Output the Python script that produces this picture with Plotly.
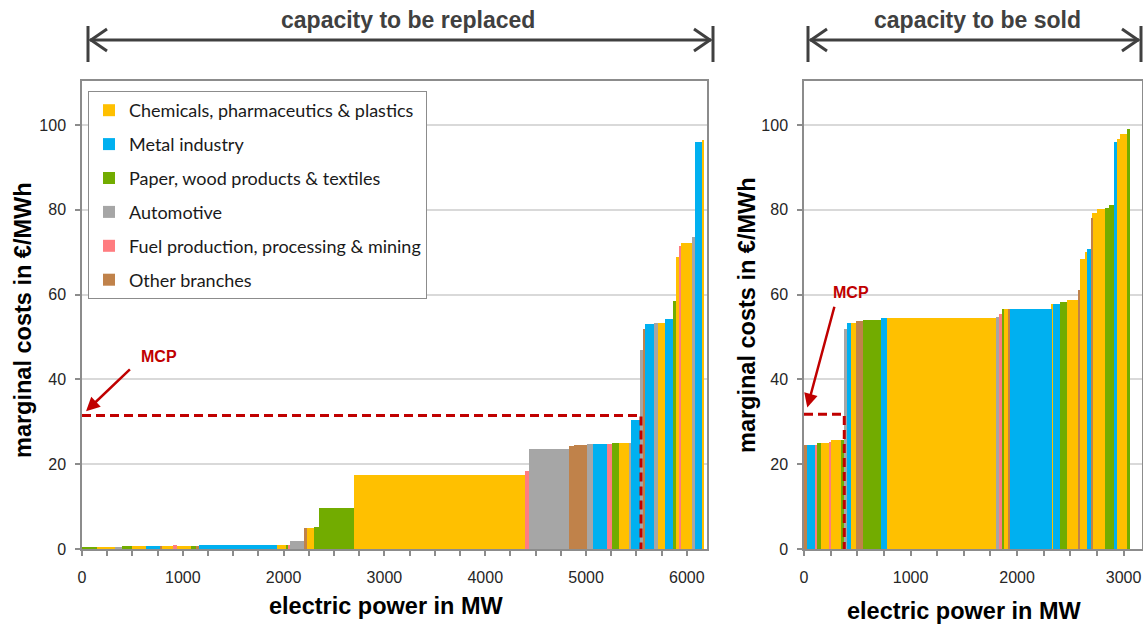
import numpy as np
import plotly.graph_objects as go

W, H = 1143, 625

# ---------------- data ----------------
sector_names = [
    "Chemicals, pharmaceutics & plastics",
    "Metal industry",
    "Paper, wood products & textiles",
    "Automotive",
    "Fuel production, processing & mining",
    "Other branches",
]
sector_codes = ["C", "M", "P", "A", "F", "O"]
sector_colors = ["#FFC000", "#00B0F0", "#72AC00", "#A6A6A6", "#FF7C80", "#C0824A"]

# capacity to be replaced (merit order, MW / EUR per MWh / sector)
left_width = [146, 181, 67, 99, 142, 139, 21, 105, 45, 133, 52, 34, 773, 88, 15, 23,
              139, 27, 73, 52, 344, 1697, 37, 402, 47, 126, 59, 139, 50, 69, 109, 10,
              100, 19, 26, 89, 34, 72, 77, 33, 30, 19, 112, 30, 64, 26]
left_cost = [0.5, 0.35, 0.35, 0.7, 0.6, 0.6, 0.7, 0.7, 1.0, 0.8, 0.8, 0.8, 0.9, 0.9, 0.9, 1.0,
             1.8, 4.9, 5.0, 5.3, 9.7, 17.4, 18.5, 23.5, 24.4, 24.6, 24.7, 24.7, 24.8, 24.9, 25.0, 25.1,
             30.5, 47.0, 52.0, 53.0, 53.2, 53.3, 54.3, 58.5, 69.0, 71.5, 72.2, 73.6, 96.0, 96.6]
left_sector = ["P", "C", "A", "P", "C", "M", "O", "C", "F", "C", "P", "O", "M", "C", "P", "F",
               "A", "O", "C", "P", "P", "C", "F", "A", "O", "O", "A", "M", "F", "P", "C", "A",
               "M", "A", "O", "M", "A", "C", "M", "P", "C", "F", "C", "A", "M", "C"]

# capacity to be sold
right_width = [31, 72, 21, 32, 80, 22, 87, 35, 25, 40, 42, 66, 172, 52, 1021, 30, 26, 21,
               47, 15, 389, 9, 72, 65, 103, 18, 53, 13, 40, 9, 44, 77, 35, 46, 31, 23, 68, 25]
right_cost = [24.5, 24.5, 24.5, 24.9, 24.9, 25.2, 25.7, 25.8, 52.0, 53.2, 53.2, 53.8, 54.1, 54.5,
              54.5, 54.8, 55.5, 56.6, 56.6, 56.6, 56.6, 57.9, 57.9, 58.3, 58.7, 61.1, 68.3, 70.0,
              70.7, 78.0, 79.3, 80.2, 80.4, 81.1, 95.9, 96.7, 97.9, 99.1]
right_sector = ["O", "M", "F", "P", "C", "F", "C", "P", "A", "M", "C", "O", "P", "M", "C", "A",
                "F", "P", "C", "O", "M", "C", "M", "P", "C", "O", "C", "C", "M", "O", "C", "C",
                "P", "P", "M", "C", "C", "P"]

# market clearing price (MW, EUR/MWh)
mcp_left_power, mcp_left_price = 5545, 31.5
mcp_right_power, mcp_right_price = 378, 31.8

x_ticks_left = [0, 1000, 2000, 3000, 4000, 5000, 6000]
x_ticks_right = [0, 1000, 2000, 3000]
y_ticks = [0, 20, 40, 60, 80, 100]

# ---------------- helpers ----------------
def px(x):
    return x / W


def py(y):
    return 1 - y / H


AX_COLOR = "#8C8C8C"
GRID_COLOR = "#D9D9D9"
RED = "#C00000"
DARK = "#404040"
TICK_FONT = dict(family="Liberation Sans, Arial", size=16, color="#262626")

fig = go.Figure()


def add_merit(widths, costs, sectors, xa, ya, show):
    w = np.array(widths, dtype=float)
    start = np.cumsum(w) - w
    mid = start + w / 2
    c = np.array(costs, dtype=float)
    s = np.array(sectors)
    for name, code, col in zip(sector_names, sector_codes, sector_colors):
        m = s == code
        fig.add_trace(go.Bar(
            x=mid[m], y=c[m], width=w[m], name=name,
            marker=dict(color=col, line=dict(width=0)),
            xaxis=xa, yaxis=ya, showlegend=show, legendgroup=name,
            hoverinfo="skip",
        ))


add_merit(left_width, left_cost, left_sector, "x", "y", True)
add_merit(right_width, right_cost, right_sector, "x2", "y2", False)

# MCP dashed lines
for p, c, xa, ya in [(mcp_left_power, mcp_left_price, "x", "y"),
                     (mcp_right_power, mcp_right_price, "x2", "y2")]:
    fig.add_trace(go.Scatter(
        x=[0, p, p], y=[c, c, 0], mode="lines",
        line=dict(color=RED, width=3, dash="9px,5px"),
        xaxis=xa, yaxis=ya, showlegend=False, hoverinfo="skip",
    ))

L0, L1 = 82, 707
R0, R1 = 804, 1141.7
YB, YT = 549, 81
y_dom = [py(YB), py(YT)]

xcommon = dict(
    showline=True, linecolor=AX_COLOR, linewidth=1.5, mirror=True,
    ticks="outside", ticklen=5, tickcolor=AX_COLOR, tickwidth=1.5,
    showgrid=False, zeroline=False, tickfont=TICK_FONT, ticklabelstandoff=8,
    automargin=False, ticklabeloverflow="allow",
    minor=dict(dtick=250, ticks="outside", ticklen=5, tickcolor=AX_COLOR, tickwidth=1.5, showgrid=False),
)
ycommon = dict(
    showline=True, linecolor=AX_COLOR, linewidth=1.5, mirror=True,
    ticks="outside", ticklen=5, tickcolor=AX_COLOR, tickwidth=1.5,
    showgrid=True, gridcolor=GRID_COLOR, gridwidth=1.5, zeroline=False,
    tickfont=TICK_FONT, range=[0, 110.4], tickvals=y_ticks, domain=y_dom, ticklabelstandoff=6,
    automargin=False,
)

fig.update_layout(
    width=W, height=H,
    margin=dict(l=0, r=0, t=0, b=0, autoexpand=False),
    paper_bgcolor="white", plot_bgcolor="white",
    barmode="overlay", bargap=0,
    xaxis=dict(domain=[px(L0), px(L1)], range=[0, 6200], tickvals=x_ticks_left,
               anchor="y", **xcommon),
    yaxis=dict(anchor="x", **ycommon),
    xaxis2=dict(domain=[px(R0), px(R1)], range=[0, 3170], tickvals=x_ticks_right,
                anchor="y2", **xcommon),
    yaxis2=dict(anchor="x2", **ycommon),
    legend=dict(
        x=px(88), y=py(91), xanchor="left", yanchor="top",
        bgcolor="white", bordercolor="#8C8C8C", borderwidth=1,
        font=dict(family="Lato, Open Sans", size=18, color="#1A1A1A"),
        tracegroupgap=7.5, itemwidth=30, traceorder="grouped",
    ),
    showlegend=True,
)

annotations = []
shapes = []

# top titles with double arrows
for (a, b, cx, label) in [(88, 713, 408, "capacity to be replaced"),
                          (808, 1141, 977, "capacity to be sold")]:
    annotations.append(dict(
        x=px(cx), y=py(20), xref="paper", yref="paper", text=label, showarrow=False,
        font=dict(family="Liberation Sans, Arial", size=23, color=DARK, weight="bold"),
        xanchor="center", yanchor="middle",
    ))
    ln = dict(color=DARK, width=3)
    shapes.append(dict(type="line", xref="paper", yref="paper",
                       x0=px(a + 2), x1=px(b - 2), y0=py(40), y1=py(40), line=ln))
    shapes.append(dict(type="line", xref="paper", yref="paper",
                       x0=px(a), x1=px(a), y0=py(26), y1=py(62), line=ln))
    shapes.append(dict(type="line", xref="paper", yref="paper",
                       x0=px(b), x1=px(b), y0=py(26), y1=py(62), line=ln))
    shapes.append(dict(type="path", xref="paper", yref="paper",
                       path=f"M {px(a + 19)} {py(29)} L {px(a + 3)} {py(40)} L {px(a + 19)} {py(51)}",
                       line=ln))
    shapes.append(dict(type="path", xref="paper", yref="paper",
                       path=f"M {px(b - 19)} {py(29)} L {px(b - 3)} {py(40)} L {px(b - 19)} {py(51)}",
                       line=ln))

# axis titles
TITLE_FONT = dict(family="Liberation Sans, Arial", size=23.5, color="#000000", weight="bold")
for cx, cy in [(386, 606), (964, 611)]:
    annotations.append(dict(x=px(cx), y=py(cy), xref="paper", yref="paper",
                            text="electric power in MW", showarrow=False, font=TITLE_FONT,
                            xanchor="center", yanchor="middle"))
for cx, cy in [(23, 320), (747, 315)]:
    annotations.append(dict(x=px(cx), y=py(cy), xref="paper", yref="paper",
                            text="marginal costs in €/MWh", showarrow=False, font=TITLE_FONT,
                            textangle=-90, xanchor="center", yanchor="middle"))

# MCP labels and arrows
MCP_FONT = dict(family="Liberation Sans, Arial", size=16, color=RED, weight="bold")
for xr, yr, tx, ty, hx, hy, ax_, ay_ in [
    ("x", "y", 760, 45.3, 40, 32.5, 490, 42.7),
    ("x2", "y2", 445, 60.4, 31, 33.4, 289, 57.5),
]:
    annotations.append(dict(x=tx, y=ty, xref=xr, yref=yr, text="MCP", showarrow=False,
                            font=MCP_FONT, xanchor="center", yanchor="middle"))
    annotations.append(dict(x=hx, y=hy, xref=xr, yref=yr, ax=ax_, ay=ay_, axref=xr, ayref=yr,
                            text="", showarrow=True, arrowhead=2, arrowsize=1.1, arrowwidth=2.5,
                            arrowcolor=RED))

fig.update_layout(annotations=annotations, shapes=shapes)

fig.write_html(
    "out.html",
    config={"displayModeBar": False},
    post_script="document.body.style.margin='0px';document.body.style.overflow='hidden';",
)
